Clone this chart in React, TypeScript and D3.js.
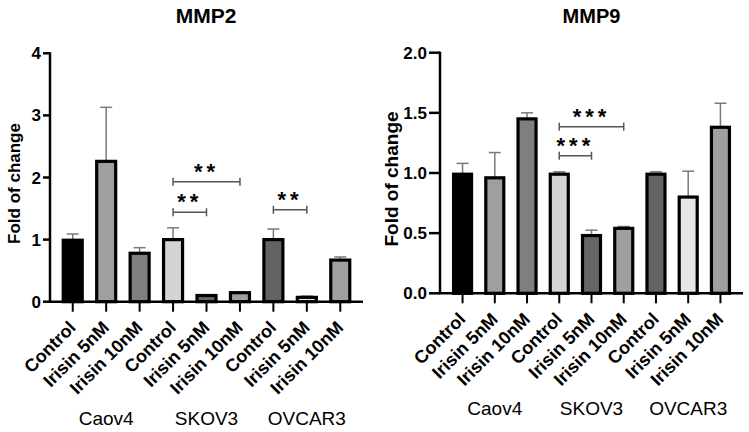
import React from "react";
import * as d3 from "d3";

const conditions = ["Control", "Irisin 5nM", "Irisin 10nM"];
const cellLines = ["Caov4", "SKOV3", "OVCAR3"];
const barFills = ["#000000", "#9f9f9f", "#7f7f7f", "#d4d4d4", "#666666", "#9f9f9f", "#636363", "#e6e6e6", "#9f9f9f"];

const mmp2Means = [0.99, 2.26, 0.78, 1.0, 0.1, 0.145, 1.0, 0.07, 0.67];
const mmp2Errs = [0.1, 0.87, 0.09, 0.19, 0.01, 0.015, 0.17, 0.02, 0.05];
const mmp2Ticks = [0, 1, 2, 3, 4];
const mmp2Sig = [
  { from: 3, to: 5, level: 1.93, label: "**" },
  { from: 3, to: 4, level: 1.44, label: "**" },
  { from: 6, to: 7, level: 1.48, label: "**" },
];

const mmp9Means = [0.99, 0.96, 1.45, 0.99, 0.48, 0.54, 0.99, 0.8, 1.38];
const mmp9Errs = [0.09, 0.21, 0.05, 0.02, 0.045, 0.015, 0.02, 0.215, 0.2];
const mmp9Ticks = [0, 0.5, 1.0, 1.5, 2.0];
const mmp9Sig = [
  { from: 3, to: 5, level: 1.385, label: "***" },
  { from: 3, to: 4, level: 1.144, label: "***" },
];

const font = "'Liberation Sans', Arial, sans-serif";

type Sig = { from: number; to: number; level: number; label: string };

function Panel(props: {
  title: string;
  titleX: number;
  titleSize: number;
  means: number[];
  errs: number[];
  ticks: number[];
  fmt: (v: number) => string;
  sig: Sig[];
  x0: number;
  x1: number;
  yTop: number;
  yBot: number;
  barW: number;
  pad: number;
  labelX: number;
  labelSize: number;
  groupY: number;
  tickLen: number;
}) {
  const { means, errs, ticks, sig, x0, x1, yTop, yBot, barW } = props;
  const cats = cellLines.flatMap((c) => conditions.map((k) => `${c}|${k}`));
  const x = d3.scalePoint<string>().domain(cats).range([x0, x1]).padding(props.pad);
  const y = d3.scaleLinear().domain([ticks[0], ticks[ticks.length - 1]]).range([yBot, yTop]);
  const sw = 3.2;
  return (
    <g>
      <text x={props.titleX} y={23} textAnchor="middle" fontFamily={font} fontWeight="bold" fontSize={props.titleSize}>
        {props.title}
      </text>
      <text
        transform={`translate(${props.labelX},${(yTop + yBot) / 2 + 6}) rotate(-90)`}
        textAnchor="middle"
        fontFamily={font}
        fontWeight="bold"
        fontSize={props.labelSize}
      >
        Fold of change
      </text>
      {cats.map((c, i) => {
        const cx = x(c)!;
        const top = y(means[i]);
        return (
          <g key={c}>
            <line x1={cx} x2={cx} y1={y(means[i] + errs[i])} y2={top} stroke="#7a7a7a" strokeWidth={1.5} />
            <line x1={cx - 6} x2={cx + 6} y1={y(means[i] + errs[i])} y2={y(means[i] + errs[i])} stroke="#7a7a7a" strokeWidth={1.5} />
            <rect x={cx - barW / 2} y={top} width={barW} height={yBot - top} fill={barFills[i]} stroke="#000" strokeWidth={sw} />
          </g>
        );
      })}
      <line x1={x0} x2={x0} y1={yTop - 1} y2={yBot} stroke="#000" strokeWidth={2.5} />
      {ticks.map((t) => (
        <g key={t}>
          <line x1={x0 - props.tickLen} x2={x0} y1={y(t)} y2={y(t)} stroke="#000" strokeWidth={2.5} />
          <text x={x0 - props.tickLen - 2} y={y(t) + 6} textAnchor="end" fontFamily={font} fontWeight="bold" fontSize={17}>
            {props.fmt(t)}
          </text>
        </g>
      ))}
      <line x1={x0 - 1} x2={x1} y1={yBot} y2={yBot} stroke="#000" strokeWidth={2.5} />
      {cats.map((c, i) => {
        const cx = x(c)!;
        return (
          <g key={"t" + c}>
            <line x1={cx} x2={cx} y1={yBot} y2={yBot + 10} stroke="#000" strokeWidth={2} />
            <text
              transform={`translate(${cx + 4},${yBot + 27}) rotate(-45)`}
              textAnchor="end"
              fontFamily={font}
              fontWeight="bold"
              fontSize={18}
            >
              {conditions[i % 3]}
            </text>
          </g>
        );
      })}
      {cellLines.map((g) => (
        <text key={g} x={x(`${g}|${conditions[1]}`)!} y={props.groupY} textAnchor="middle" fontFamily={font} fontSize={19}>
          {g}
        </text>
      ))}
      {sig.map((s, si) => {
        const xa = x(cats[s.from])!;
        const xb = x(cats[s.to])!;
        const yy = y(s.level);
        return (
          <g key={"s" + si} stroke="#555" strokeWidth={1.5}>
            <line x1={xa} x2={xb} y1={yy} y2={yy} />
            <line x1={xa} x2={xa} y1={yy - 4} y2={yy + 4} />
            <line x1={xb} x2={xb} y1={yy - 4} y2={yy + 4} />
            <text
              x={(xa + xb) / 2}
              y={yy - 15 + 12}
              textAnchor="middle"
              fontFamily={font}
              fontWeight="bold"
              fontSize={22}
              letterSpacing={4}
              stroke="none"
              fill="#000"
            >
              {s.label}
            </text>
          </g>
        );
      })}
    </g>
  );
}

export default function App() {
  return (
    <svg width={749} height={432} style={{ position: "absolute", left: 0, top: 0, background: "#fff" }}>
      <rect width={749} height={432} fill="#fff" />
      <Panel
        title="MMP2"
        titleX={206}
        titleSize={21}
        means={mmp2Means}
        errs={mmp2Errs}
        ticks={mmp2Ticks}
        fmt={(v) => d3.format("d")(v)}
        sig={mmp2Sig}
        x0={50}
        x1={363}
        yTop={53.3}
        yBot={301.7}
        barW={19}
        pad={0.68}
        labelX={20}
        labelSize={17}
        groupY={425}
        tickLen={7}
      />
      <Panel
        title="MMP9"
        titleX={591.5}
        titleSize={20}
        means={mmp9Means}
        errs={mmp9Errs}
        ticks={mmp9Ticks}
        fmt={(v) => d3.format(".1f")(v)}
        sig={mmp9Sig}
        x0={440}
        x1={743}
        yTop={52.7}
        yBot={293.3}
        barW={18}
        pad={0.7}
        labelX={398}
        labelSize={19}
        groupY={415}
        tickLen={11}
      />
    </svg>
  );
}
